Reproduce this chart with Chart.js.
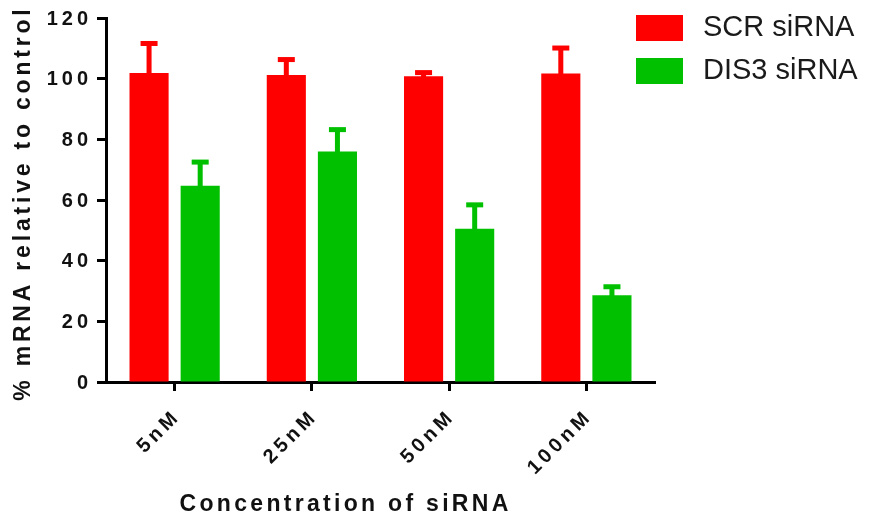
<!DOCTYPE html>
<html>
<head>
<meta charset="utf-8">
<script src="https://cdn.jsdelivr.net/npm/chart.js@4/dist/chart.umd.min.js"></script>
<style>
  body { margin: 0; background: #fff; }
  #wrap { width: 880px; height: 521px; }
</style>
</head>
<body>
<div id="wrap"><canvas id="siRNAChart" width="880" height="521"></canvas></div>
<script>
const categories = ['5nM', '25nM', '50nM', '100nM'];
const seriesNames = ['SCR siRNA', 'DIS3 siRNA'];
const scrValues = [101.9, 101.2, 100.8, 101.7];
const scrErrors = [9.7, 5.1, 1.2, 8.4];
const dis3Values = [64.7, 76.0, 50.5, 28.6];
const dis3Errors = [7.8, 7.2, 7.9, 2.8];
const yTicks = [0, 20, 40, 60, 80, 100, 120];

const redColor = '#ff0000';
const greenColor = '#00c000';
const errors = [scrErrors, dis3Errors];

// error bars, tick labels, titles and legend drawn by hand (letter spaced text)
const extrasPlugin = {
    id: 'extras',
    afterDatasetsDraw(chart) {
        const ctx = chart.ctx;
        const yScale = chart.scales.y;
        ctx.save();
        chart.data.datasets.forEach(function(ds, i) {
            const meta = chart.getDatasetMeta(i);
            ctx.fillStyle = ds.backgroundColor;
            meta.data.forEach(function(bar, j) {
                const top = yScale.getPixelForValue(ds.data[j] + errors[i][j]);
                ctx.fillRect(bar.x - 2.5, top, 5, bar.y - top + 1);
                ctx.fillRect(bar.x - 8.5, top - 2.5, 17, 5);
            });
        });
        ctx.restore();
    },
    afterDraw(chart) {
        const ctx = chart.ctx;
        const xScale = chart.scales.x;
        const yScale = chart.scales.y;
        ctx.save();
        ctx.fillStyle = '#111';

        // y tick labels
        ctx.font = 'bold 20px "Liberation Sans", Arial, sans-serif';
        ctx.letterSpacing = '4px';
        ctx.textAlign = 'right';
        ctx.textBaseline = 'middle';
        yTicks.forEach(function(v) {
            ctx.fillText(String(v), 88 + 4, yScale.getPixelForValue(v) + 1);
        });

        // x tick labels, rotated 45 degrees
        categories.forEach(function(c, i) {
            const x = xScale.getPixelForValue(i);
            ctx.save();
            ctx.translate(x + 2.8, 416 - 2.8);
            ctx.rotate(-Math.PI / 4);
            ctx.fillText(c, 0, 0);
            ctx.restore();
        });

        // axis titles
        ctx.font = 'bold 23px "Liberation Sans", Arial, sans-serif';
        ctx.letterSpacing = '3.3px';
        ctx.textAlign = 'center';
        ctx.fillText('Concentration of siRNA', 344 + 1.6, 505);

        ctx.letterSpacing = '3.8px';
        ctx.save();
        ctx.translate(24, 205);
        ctx.rotate(-Math.PI / 2);
        ctx.fillText('% mRNA relative to control', 1.9, 0);
        ctx.restore();

        // legend
        ctx.letterSpacing = '0px';
        ctx.textAlign = 'left';
        ctx.font = '29px "Liberation Sans", Arial, sans-serif';
        const boxes = [[15, redColor], [58, greenColor]];
        boxes.forEach(function(b, i) {
            ctx.fillStyle = b[1];
            ctx.fillRect(636, b[0], 47, 26);
            ctx.fillStyle = '#1a1a1a';
            ctx.fillText(seriesNames[i], 703, b[0] + 13);
        });
        ctx.restore();
    }
};

new Chart(document.getElementById('siRNAChart'), {
    type: 'bar',
    data: {
        labels: categories,
        datasets: [{
            label: seriesNames[0],
            data: scrValues,
            backgroundColor: redColor,
            categoryPercentage: 0.745,
            barPercentage: 0.765
        }, {
            label: seriesNames[1],
            data: dis3Values,
            backgroundColor: greenColor,
            categoryPercentage: 0.745,
            barPercentage: 0.765
        }]
    },
    options: {
        responsive: false,
        animation: false,
        layout: {
            padding: { left: 97, right: 225, top: 18, bottom: 130 }
        },
        plugins: {
            legend: { display: false },
            tooltip: { enabled: false }
        },
        scales: {
            x: {
                offset: true,
                grid: {
                    display: true,
                    drawOnChartArea: false,
                    drawTicks: true,
                    tickLength: 9,
                    tickWidth: 3,
                    tickColor: '#000',
                    offset: false
                },
                border: { display: true, width: 3, color: '#000' },
                ticks: { display: false }
            },
            y: {
                min: 0,
                max: 120,
                grid: {
                    display: true,
                    drawOnChartArea: false,
                    drawTicks: true,
                    tickLength: 9,
                    tickWidth: 3,
                    tickColor: '#000'
                },
                border: { display: true, width: 3, color: '#000' },
                ticks: { display: false, stepSize: 20 }
            }
        }
    },
    plugins: [extrasPlugin]
});
</script>
</body>
</html>
